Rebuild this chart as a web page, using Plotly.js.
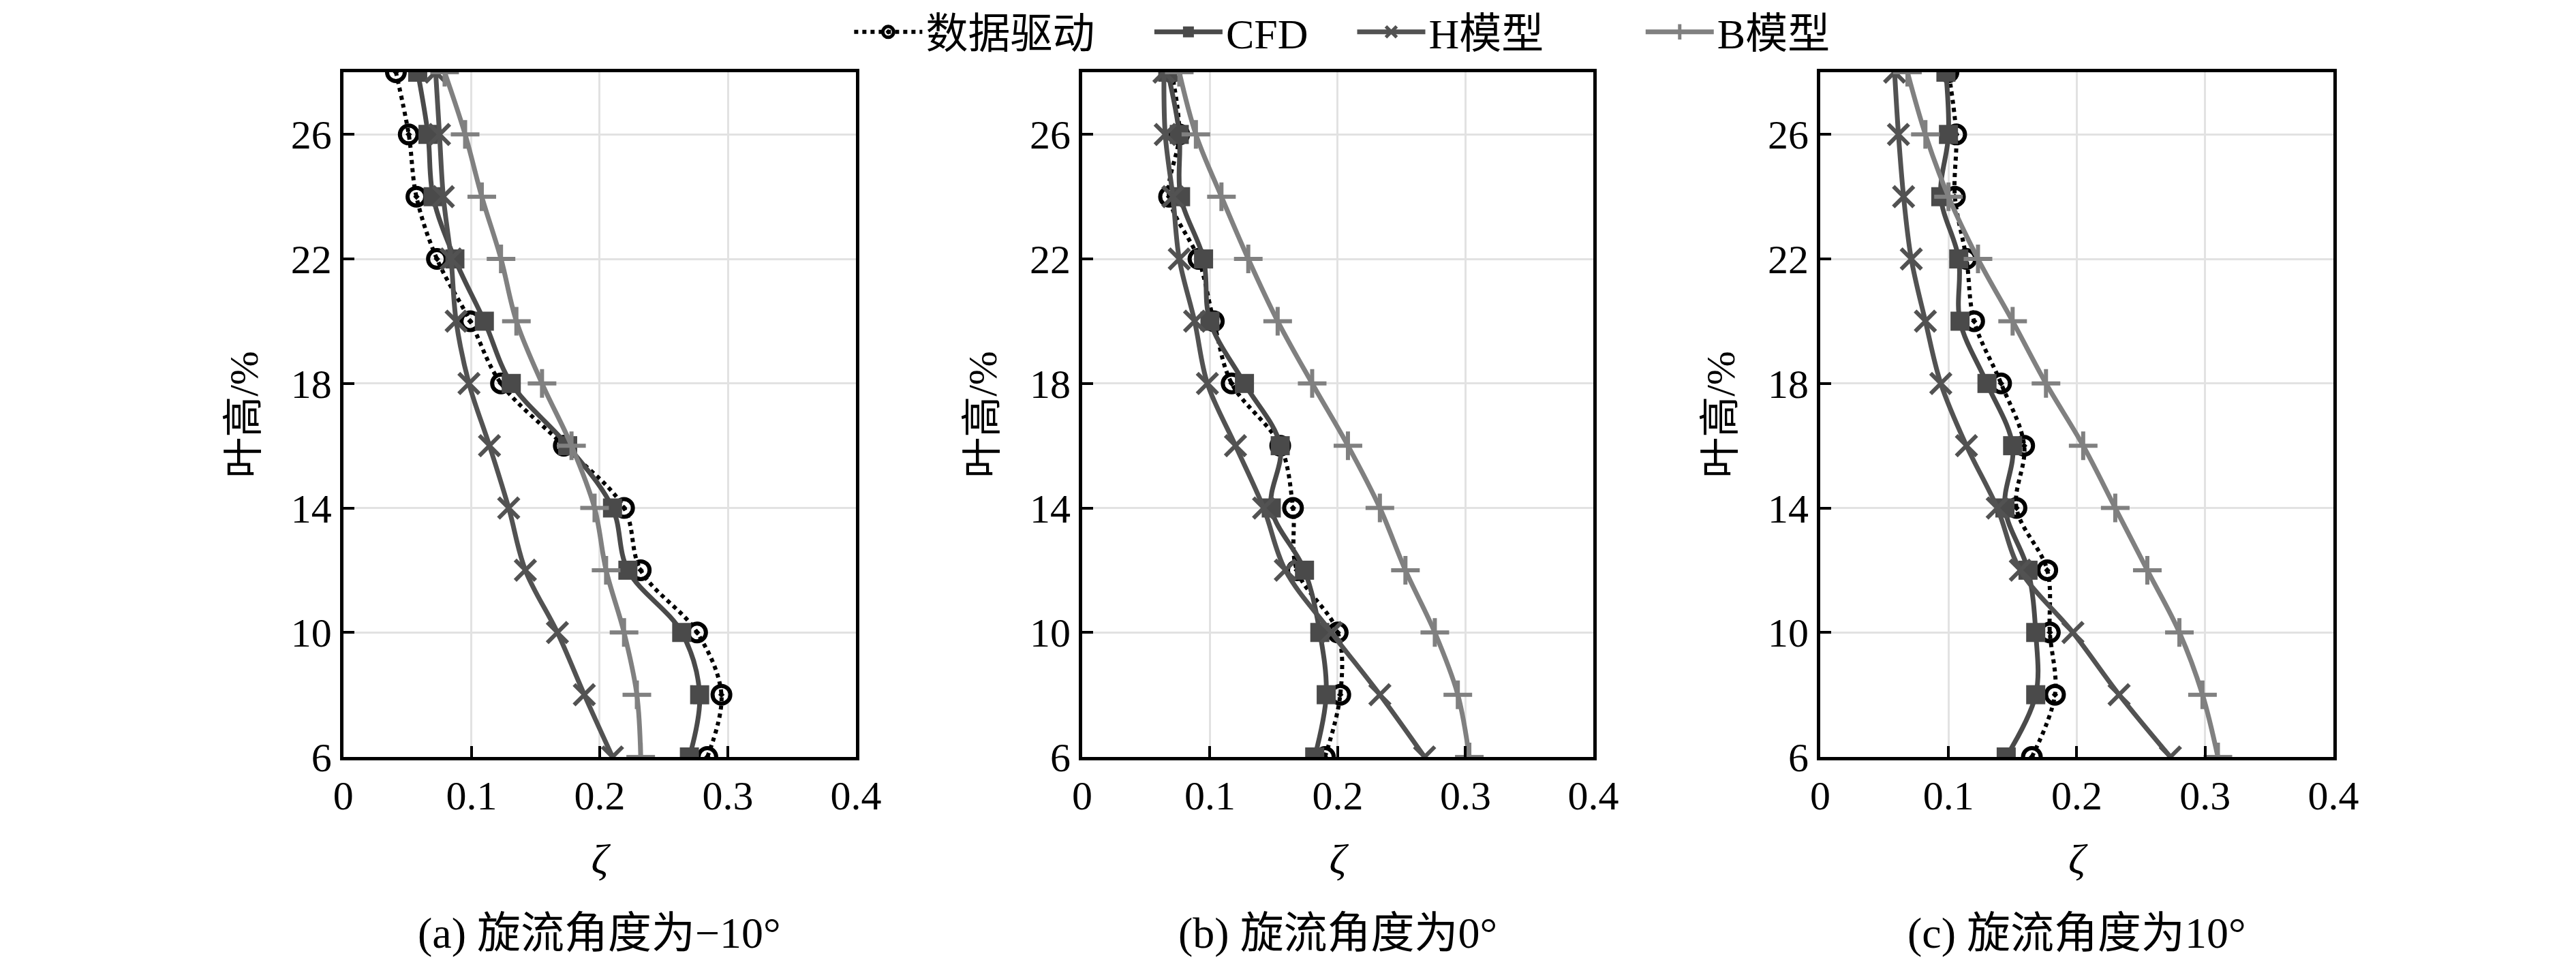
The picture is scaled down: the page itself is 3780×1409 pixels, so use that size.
<!DOCTYPE html>
<html>
<head>
<meta charset="utf-8">
<script src="https://cdn.plot.ly/plotly-3.0.1.min.js"></script>
<style>
  body { margin: 0; background: #fff; }
  #chart { width: 3780px; height: 1409px; }
</style>
</head>
<body>
<div id="chart"></div>
<script>
// blade height (%) shared by all panels
var heights = [6, 8, 10, 12, 14, 16, 18, 20, 22, 24, 26, 28]

var seriesNames = ['数据驱动', 'CFD', 'H模型', 'B模型']
var captions = ['(a) 旋流角度为−10°', '(b) 旋流角度为0°', '(c) 旋流角度为10°']

// panel (a): swirl angle -10 deg
var dataA = [0.284, 0.295, 0.276, 0.232, 0.219, 0.172, 0.123, 0.099, 0.073, 0.057, 0.051, 0.041]
var cfdA = [0.270, 0.278, 0.264, 0.222, 0.210, 0.175, 0.131, 0.110, 0.087, 0.070, 0.066, 0.058]
var hA = [0.210, 0.188, 0.167, 0.142, 0.129, 0.114, 0.098, 0.088, 0.084, 0.078, 0.075, 0.072]
var bA = [0.232, 0.229, 0.219, 0.205, 0.196, 0.178, 0.155, 0.135, 0.123, 0.108, 0.095, 0.079]

// panel (b): swirl angle 0 deg
var dataB = [0.190, 0.202, 0.200, 0.168, 0.165, 0.155, 0.117, 0.103, 0.091, 0.068, 0.076, 0.070]
var cfdB = [0.182, 0.191, 0.186, 0.174, 0.148, 0.155, 0.127, 0.100, 0.095, 0.077, 0.076, 0.067]
var hB = [0.268, 0.233, 0.195, 0.159, 0.142, 0.120, 0.098, 0.088, 0.076, 0.071, 0.065, 0.064]
var bB = [0.303, 0.294, 0.276, 0.253, 0.233, 0.208, 0.180, 0.153, 0.130, 0.109, 0.089, 0.076]

// panel (c): swirl angle 10 deg
var dataC = [0.165, 0.183, 0.179, 0.177, 0.153, 0.159, 0.141, 0.120, 0.114, 0.105, 0.106, 0.100]
var cfdC = [0.145, 0.168, 0.168, 0.162, 0.144, 0.150, 0.130, 0.109, 0.108, 0.094, 0.100, 0.098]
var hC = [0.273, 0.233, 0.197, 0.156, 0.138, 0.114, 0.094, 0.082, 0.071, 0.065, 0.061, 0.058]
var bC = [0.310, 0.298, 0.280, 0.255, 0.230, 0.205, 0.176, 0.150, 0.123, 0.100, 0.082, 0.068]

var panels = [
    [dataA, cfdA, hA, bA],
    [dataB, cfdB, hB, bB],
    [dataC, cfdC, hC, bC]
]

var styles = [
    {line: {color: '#000000', width: 6, dash: 'dot', shape: 'spline'},
     marker: {symbol: 'circle-open-dot', size: 26, color: '#000000', line: {width: 6}}},
    {line: {color: '#4a4a4a', width: 7, shape: 'spline'},
     marker: {symbol: 'square', size: 28, color: '#4a4a4a'}},
    {line: {color: '#525252', width: 7, shape: 'spline'},
     marker: {symbol: 'x-thin-open', size: 30, color: '#525252', line: {width: 6}}},
    {line: {color: '#808080', width: 7, shape: 'spline'},
     marker: {symbol: 'cross-thin-open', size: 30, color: '#808080', line: {width: 6}}}
]

// horizontal legend has no per-item gap setting, so pad the names a little
var legendPad = [5, 4, 9, 0]

var font = 'Liberation Serif, Times New Roman, Noto Sans CJK SC, serif'

var traces = []
panels.forEach(function (series, p) {
    var suffix = p === 0 ? '' : String(p + 1)
    series.forEach(function (xs, s) {
        traces.push({
            x: xs,
            y: heights,
            type: 'scatter',
            mode: 'lines+markers',
            name: seriesNames[s] + '\u00a0'.repeat(legendPad[s]),
            legendgroup: seriesNames[s],
            showlegend: p === 0,
            xaxis: 'x' + suffix,
            yaxis: 'y' + suffix,
            line: styles[s].line,
            marker: styles[s].marker
        })
    })
})

var domainsX = [[0.1333, 0.3323], [0.4201, 0.6185], [0.7066, 0.9058]]

function xAxis (p) {
    return {
        domain: domainsX[p],
        anchor: p === 0 ? 'y' : 'y' + (p + 1),
        range: [0, 0.4],
        tickvals: [0, 0.1, 0.2, 0.3, 0.4],
        ticktext: ['0', '0.1', '0.2', '0.3', '0.4'],
        ticks: 'inside',
        ticklen: 16,
        tickwidth: 4,
        tickcolor: '#000',
        showline: true,
        linecolor: '#000',
        linewidth: 5,
        mirror: true,
        showgrid: true,
        gridcolor: '#e2e2e2',
        gridwidth: 3,
        zeroline: false,
        tickfont: {family: font, size: 60, color: '#000'},
        title: {text: '<i>ζ</i>', font: {family: font, size: 62, color: '#000'}, standoff: 40}
    }
}

function yAxis (p) {
    return {
        domain: [0.2115, 0.9248],
        anchor: p === 0 ? 'x' : 'x' + (p + 1),
        range: [6, 28],
        tickvals: [6, 10, 14, 18, 22, 26],
        ticks: 'inside',
        ticklen: 16,
        tickwidth: 4,
        tickcolor: '#000',
        showline: true,
        linecolor: '#000',
        linewidth: 5,
        mirror: true,
        showgrid: true,
        gridcolor: '#e2e2e2',
        gridwidth: 3,
        zeroline: false,
        tickfont: {family: font, size: 60, color: '#000'},
        title: {text: '叶高/%', font: {family: font, size: 60, color: '#000'}, standoff: 30}
    }
}

var layout = {
    width: 3780,
    height: 1409,
    margin: {l: 0, r: 0, t: 0, b: 0},
    paper_bgcolor: '#fff',
    plot_bgcolor: '#fff',
    showlegend: true,
    legend: {
        orientation: 'h',
        x: 0.521,
        xanchor: 'center',
        y: 1.0,
        yanchor: 'top',
        font: {family: font, size: 62, color: '#000'},
        itemwidth: 100,
        bgcolor: 'rgba(0,0,0,0)'
    },
    annotations: captions.map(function (text, p) {
        return {
            text: text,
            xref: 'paper',
            yref: 'paper',
            x: (domainsX[p][0] + domainsX[p][1]) / 2,
            y: 0.028,
            xanchor: 'center',
            yanchor: 'middle',
            showarrow: false,
            font: {family: font, size: 64, color: '#000'}
        }
    })
}

for (var p = 0; p < 3; p++) {
    var suffix = p === 0 ? '' : String(p + 1)
    layout['xaxis' + suffix] = xAxis(p)
    layout['yaxis' + suffix] = yAxis(p)
}

Plotly.newPlot('chart', traces, layout, {staticPlot: true})
</script>
</body>
</html>
